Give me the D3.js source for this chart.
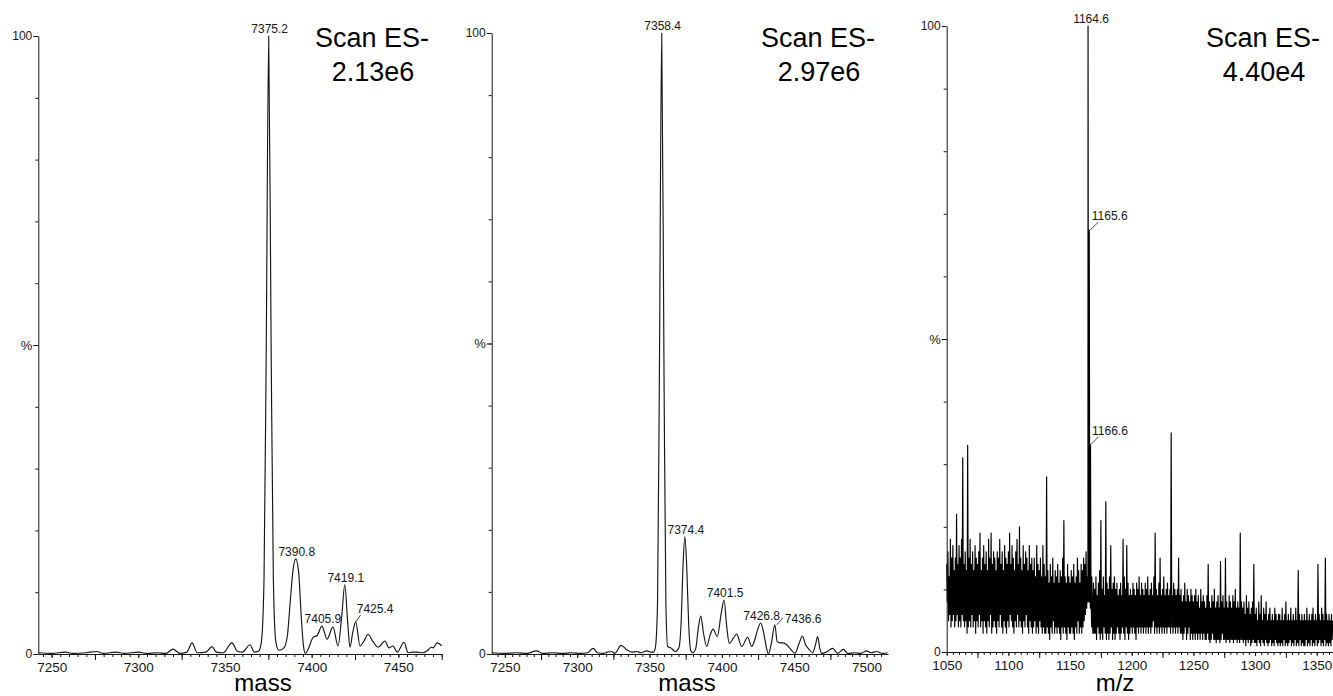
<!DOCTYPE html>
<html>
<head>
<meta charset="utf-8">
<script src="https://cdn.jsdelivr.net/npm/d3@7"></script>
<style>
  body { margin: 0; background: #fff; }
  svg { display: block; font-family: 'Liberation Sans', Arial, Helvetica, sans-serif; }
</style>
</head>
<body>
<svg id="chart" width="1333" height="696"></svg>
<script>
// ---------- data ----------
// Deconvoluted spectrum A: [mass, % relative intensity]
const spectrumA = [
  [7242.5,0.2],[7250,0.1],[7258,0.3],[7262,0.1],[7270,0.2],[7276,0.4],[7280,0.1],[7287,0.3],
  [7292,0.1],[7300,0.3],[7305,0.1],[7311,0.2],[7316,0.1],[7320,0.8],[7324,0.1],[7328,0.3],
  [7331,1.8],[7334,0.2],[7339,0.3],[7342.5,1.2],[7345,0.3],[7349,0.2],[7354,1.8],[7357,0.5],
  [7360,0.3],[7364.4,1.5],[7367,0.3],[7369.5,0.5],[7371,2],[7372.5,12],[7373.8,50],[7375.2,100],
  [7376.6,50],[7377.9,12],[7379.3,2],[7381,0.6],[7384,1],[7386,3],[7387.5,8],[7389.2,13.5],
  [7390.8,15.4],[7392.4,13.5],[7394,6],[7395.3,1.2],[7396.4,0.1],[7398,0.8],[7400.8,2.7],
  [7403.1,3],[7405.9,4.5],[7408.9,2.4],[7412.3,4.4],[7415.2,1.3],[7417.3,6],[7419.1,11.2],
  [7420.8,5],[7422.1,1.1],[7423.7,3.5],[7425.4,5.2],[7427.9,1.3],[7430,2],[7432.5,3.2],
  [7435.4,2],[7438.3,1.1],[7442.3,2.1],[7444.6,1],[7446.9,1.3],[7449.3,0.3],[7453.3,1.9],
  [7455.6,0.2],[7458,0.3],[7460.8,0.3],[7464.3,0.2],[7467,0.6],[7468.9,1.1],[7470.1,1],
  [7472.4,1.8],[7475,1.3]
];
const peaksA = [[7375.2,100],[7390.8,15.4],[7405.9,4.5],[7419.1,11.2],[7425.4,5.2]];
const massTicksA = [7250,7300,7350,7400,7450];

// Deconvoluted spectrum B: [mass, % relative intensity]
const spectrumB = [
  [7241,0.2],[7250,0.1],[7258,0.2],[7265,0.1],[7272,0.5],[7276,0.1],[7283,0.2],[7290,0.1],
  [7296,0.2],[7302,0.1],[7307,0.2],[7311.1,0.9],[7314,0.2],[7318,0.1],[7321,0.3],[7323.8,0.4],
  [7326,0.1],[7330.3,1.4],[7334.2,0.7],[7338,0.3],[7341.1,0.4],[7344,0.2],[7348,0.5],[7351,0.3],
  [7352.6,0.3],[7354,1],[7355.5,8],[7356.8,45],[7358.4,100],[7360,45],[7361.3,8],[7362.5,1.2],
  [7364.5,1],[7368,0.4],[7370.3,1],[7371.8,5],[7373.1,14],[7374.4,18.9],[7375.7,14],[7377,5],
  [7378.5,0.5],[7380,0.2],[7382,1],[7383.6,4],[7385.4,6.1],[7387.2,3.5],[7389.5,1.2],[7391.8,3],
  [7393.9,4],[7396.8,2.8],[7399.5,6.5],[7401.5,8.7],[7403.3,4.5],[7405.1,1.7],[7407.8,2.5],
  [7410.2,3.2],[7413.7,1.2],[7417.8,2.7],[7420.6,1.2],[7423,2.5],[7424.8,4],[7426.8,5.0],
  [7428.8,3.5],[7430.8,1],[7432.1,0],[7434,1.5],[7436.6,4.7],[7438.2,2],[7440.2,1.8],
  [7442.5,1.8],[7444.8,1.5],[7447.5,0.8],[7450.5,0.1],[7453.5,1.8],[7455.6,2.9],[7457.8,1.5],
  [7459.7,0.9],[7462.7,0.2],[7464.7,1.5],[7466.2,2.8],[7467.6,1],[7469,0.1],[7472,0.3],
  [7476.6,0.9],[7480,0.1],[7484,0.75],[7487,0.1],[7492,0.2],[7496,0.1],[7500,0.5],[7503,0.2],
  [7507,0.4],[7511,0.1],[7514.5,0.2]
];
const peaksB = [[7358.4,100],[7374.4,18.9],[7401.5,8.7],[7426.8,5.0],[7436.6,4.7]];
const massTicksB = [7250,7300,7350,7400,7450,7500];

// Raw m/z scan C: upper and lower intensity readings for each m/z unit from mzStartC
const mzStartC = 1050;
const scanHighC = [
  14,16,12,18,15,17,13,15,22,14,
  17,15,18,31,14,16,13,33,15,18,
  14,16,13,17,15,14,16,19,13,15,
  17,14,16,13,18,15,19,14,16,15,
  13,16,15,18,14,16,13,17,15,14,
  16,19,14,17,15,13,16,18,14,20,
  15,13,17,14,16,15,13,17,14,15,
  13,15,12,17,14,13,15,12,17,14,
  12,28,13,11,14,12,15,11,13,12,
  14,11,13,12,15,21,12,11,14,12,
  11,13,12,14,11,12,15,13,11,14,
  13,15,14,16,12,11,10,9,8,11,
  10,12,9,11,13,21,10,12,9,24,
  11,10,12,17,10,11,12,10,11,9,
  10,11,9,18,12,10,17,11,9,10,
  9,11,10,9,11,10,12,9,11,10,
  9,11,10,12,9,10,11,9,12,19,
  10,9,11,15,9,10,12,9,10,11,
  9,10,35,9,11,10,9,10,15,9,
  10,8,9,11,8,10,9,8,10,9,
  8,9,10,8,9,7,10,8,9,8,
  7,9,14,8,7,9,8,10,7,8,
  9,7,14.5,8,9,7,15,8,7,9,
  8,7,9,8,10,7,8,7,19,8,
  7,8,6,9,7,8,6,7,8,14,
  6,7,5,8,6,9,5,7,6,8,
  5,6,7,5,6,5,7,6,5,6,
  6,5,7,5,6,8,5,6,5,7,
  5,6,5,7,5,13,6,5,6,5,
  6,5,7,5,6,5,6,7,5,6,
  5,14,6,5,7,6,5,15,6,5,
  6,5,6,5
];
const scanLowC = [
  8,5,6,4,5,6,4,5,6,4,
  5,4,6,5,4,5,3,4,5,4,
  6,4,5,3,5,4,6,4,5,3,
  5,4,3,5,4,6,3,4,5,4,
  3,5,4,6,4,3,5,4,3,5,
  4,6,5,4,3,5,4,6,4,5,
  4,3,5,4,6,4,3,5,4,3,
  4,5,3,4,3,5,4,3,4,3,
  3,4,3,2,4,3,5,3,4,3,
  4,3,2,4,3,4,3,2,4,3,
  3,4,3,2,4,3,5,3,4,3,
  4,5,6,7,8,8,7,4,3,3,
  3,2,4,3,2,3,2,4,3,2,
  3,2,3,4,2,3,2,3,4,3,
  2,3,4,3,2,4,3,2,3,4,
  3,4,3,2,4,3,4,3,4,3,
  4,3,4,3,4,3,4,5,3,4,
  3,4,3,4,3,4,3,4,3,4,
  4,3,4,3,4,3,4,3,4,3,
  3,2,3,4,2,3,4,2,3,2,
  3,2,3,2,3,2,3,2,3,2,
  2,3,2,1.5,2,3,2,2,1.5,2,
  2,1.5,2,3,2,2,1.5,2,2,1.5,
  2,2,1.5,2,2,1.5,2,1.5,2,2,
  1.5,2,1,2,1.5,2,1,1.5,2,1.5,
  1.5,1,2,1.5,1,2,1.5,1,2,1.5,
  1,1.5,2,1,1.5,1,2,1.5,1,1.5,
  1,1.5,1,2,1,1.5,1,1.5,2,1,
  1.5,1,2,1,1.5,1,2,1,1.5,1,
  1,2,1,1.5,1,2,1,1.5,1,2,
  1,1.5,2,1,1.5,1,2,1,1.5,1,
  1.5,1,2,1
];
const peaksC = [[1164.6,100],[1165.6,67.4],[1166.6,33.1],[1167.6,12]];
const mzTicksC = [1050,1100,1150,1200,1250,1300,1350];

const scanTitles = [["Scan ES-","2.13e6"],["Scan ES-","2.97e6"],["Scan ES-","4.40e4"]];
const axisTitles = ["mass","mass","m/z"];

// ---------- layout ----------
const panels = [
  { series: spectrumA, peaks: peaksA, ticks: massTicksA, title: scanTitles[0], xTitle: axisTitles[0],
    domain: [7242.3, 7475], x0: 38.3, x1: 441.7, yTop: 36, yBottom: 654, smooth: true,
    titleX: 372, xTitleX: 263, labelY0: 671.5,
    callouts: { 7425.4: { dx: 1, dy: -9, anchor: "start", leader: [0, 0, 5, -7] } } },
  { series: spectrumB, peaks: peaksB, ticks: massTicksB, title: scanTitles[1], xTitle: axisTitles[1],
    domain: [7240.9, 7514.8], x0: 491.7, x1: 888, yTop: 33, yBottom: 654, smooth: true,
    titleX: 818, xTitleX: 687, labelY0: 671.5,
    callouts: { 7436.6: { dx: 10, dy: -2, anchor: "start", leader: [2, 0, 8, -7] } } },
  { series: null, peaks: peaksC, ticks: mzTicksC, title: scanTitles[2], xTitle: axisTitles[2],
    domain: [1050, 1363.2], x0: 946.7, x1: 1333, yTop: 26, yBottom: 652, smooth: false,
    titleX: 1263, xTitleX: 1115, labelY0: 669.5,
    callouts: {
      1165.6: { dx: 2.5, dy: -10, anchor: "start", leader: [1, 0, 9, -8] },
      1166.6: { dx: 1.5, dy: -10, anchor: "start", leader: [0, 0, 8, -8] },
      1167.6: { hidden: true }
    },
    topDx: 3 }
];

const svg = d3.select("#chart");
const ink = "#161616";

// scan C as a trace: each unit contributes its upper reading and, half a unit later, its lower one
function scanTraceC(peaks) {
  const pts = [];
  scanHighC.forEach((v, i) => {
    pts.push([mzStartC + i, v]);
    pts.push([mzStartC + i + 0.5, scanLowC[i]]);
  });
  return pts.concat(peaks).sort((a, b) => a[0] - b[0]);
}

function drawPanel(p) {
  const x = d3.scaleLinear().domain(p.domain).range([p.x0, p.x1]);
  const y = d3.scaleLinear().domain([0, 100]).range([p.yBottom, p.yTop]);
  const g = svg.append("g");

  const pts = p.series ? p.series : scanTraceC(p.peaks).filter(d => d[0] <= p.domain[1]);

  const line = d3.line()
    .x(d => x(d[0]))
    .y(d => y(d[1]))
    .curve(p.smooth ? d3.curveMonotoneX : d3.curveLinear);

  g.append("path")
    .datum(pts)
    .attr("fill", "none")
    .attr("stroke", p.smooth ? ink : "#000")
    .attr("stroke-width", 1.15)
    .attr("stroke-linejoin", "round")
    .attr("d", line);

  // x axis: minor ticks every 5, mid ticks at 25 offsets, labelled ticks every 50
  const minorVals = d3.range(Math.ceil(p.domain[0] / 5) * 5, p.domain[1] + 0.01, 5);
  const midVals = minorVals.filter(v => v % 50 === 25);
  const xMinor = g.append("g").attr("transform", `translate(0,${p.yBottom})`)
    .call(d3.axisBottom(x).tickValues(minorVals).tickSize(3).tickSizeOuter(0).tickFormat(""));
  const xMid = g.append("g").attr("transform", `translate(0,${p.yBottom})`)
    .call(d3.axisBottom(x).tickValues(midVals).tickSize(6).tickSizeOuter(0).tickFormat(""));
  const xMajor = g.append("g").attr("transform", `translate(0,${p.yBottom})`)
    .call(d3.axisBottom(x).tickValues(p.ticks).tickSize(4).tickSizeOuter(0).tickPadding(3)
      .tickFormat(d3.format("d")));
  [xMinor, xMid].forEach(a => a.select(".domain").remove());
  xMajor.select(".domain").attr("stroke", ink).attr("stroke-width", 1);
  g.selectAll(".tick line").attr("stroke", ink);
  xMajor.selectAll(".tick text")
    .attr("fill", ink)
    .style("font-size", "13.5px")
    .attr("y", null).attr("dy", null)
    .attr("transform", `translate(0,${p.labelY0 - p.yBottom})`);

  // y axis: ticks every 10 %, labels at 0, 50 (%) and 100
  const yMinor = g.append("g").attr("transform", `translate(${p.x0},0)`)
    .call(d3.axisLeft(y).tickValues(d3.range(10, 100, 10)).tickSize(3).tickSizeOuter(0).tickFormat(""));
  yMinor.select(".domain").remove();
  const yMajor = g.append("g").attr("transform", `translate(${p.x0},0)`)
    .call(d3.axisLeft(y).tickValues([0, 50, 100]).tickSize(5).tickSizeOuter(0).tickPadding(1)
      .tickFormat(d => d === 50 ? "%" : String(d)));
  yMajor.select(".domain").attr("stroke", ink).attr("stroke-width", 1);
  g.selectAll(".tick line").attr("stroke", ink);
  yMajor.selectAll(".tick text").attr("fill", ink)
    .style("font-size", d => d === 50 ? "13px" : "12px");

  // peak labels
  const fmt = d3.format(".1f");
  p.peaks.forEach(([m, v]) => {
    const c = p.callouts[m] || {};
    if (c.hidden) return;
    const px = x(m), py = y(v);
    if (c.leader) {
      g.append("line")
        .attr("x1", px + c.leader[0]).attr("y1", py + c.leader[1])
        .attr("x2", px + c.leader[2]).attr("y2", py + c.leader[3])
        .attr("stroke", ink).attr("stroke-width", 0.8);
      g.append("text")
        .attr("x", px + c.dx).attr("y", py + c.dy)
        .attr("text-anchor", c.anchor)
        .attr("fill", ink).style("font-size", "12px")
        .text(fmt(m));
    } else {
      g.append("text")
        .attr("x", px + (v === 100 && p.topDx ? p.topDx : 1)).attr("y", py - 3)
        .attr("text-anchor", "middle")
        .attr("fill", ink).style("font-size", "12px")
        .text(fmt(m));
    }
  });

  // scan header
  g.append("text").attr("x", p.titleX).attr("y", 46.7).attr("text-anchor", "middle")
    .style("font-size", "27px").attr("fill", "#000").text(p.title[0]);
  g.append("text").attr("x", p.titleX + 1).attr("y", 81).attr("text-anchor", "middle")
    .style("font-size", "27px").attr("fill", "#000").text(p.title[1]);

  // x axis title
  g.append("text").attr("x", p.xTitleX).attr("y", 690.5).attr("text-anchor", "middle")
    .style("font-size", "24px").attr("fill", "#000").text(p.xTitle);
}

panels.forEach(drawPanel);
</script>
</body>
</html>
